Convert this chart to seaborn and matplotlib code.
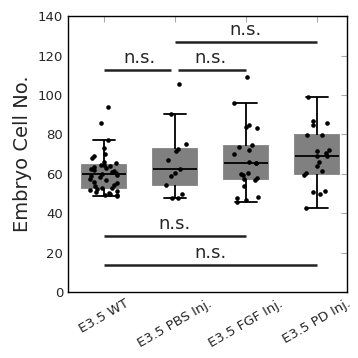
import numpy as np
import pandas as pd
import seaborn as sns
import matplotlib.pyplot as plt

# cell counts per embryo
groups = ['E3.5 WT', 'E3.5 PBS Inj.', 'E3.5 FGF Inj.', 'E3.5 PD Inj.']
wt = [48.9, 49.2, 49.5, 50.0, 50.5, 51.0, 51.5, 52.0, 52.3, 52.6,
      53.0, 54.0, 54.5, 55.5, 56.0, 57.0, 57.5, 58.5, 59.0, 59.5,
      59.9, 60.5, 61.0, 61.5, 62.0, 62.5, 63.0, 63.5, 64.0, 64.3,
      64.5, 65.3, 66.0, 68.2, 69.0, 69.9, 72.9, 77.1, 85.6, 93.7]
pbs = [47.5, 47.9, 49.7, 54.3, 58.9, 60.5, 62.7, 67.0, 71.5, 72.5, 75.0, 90.6, 105.5]
fgf = [45.8, 46.5, 47.5, 48.5, 53.6, 57.0, 57.5, 57.7, 59.4, 60.0, 60.5, 65.3,
       65.5, 65.8, 69.9, 72.0, 73.5, 74.7, 83.5, 83.9, 84.7, 95.7, 108.9]
pd_inj = [42.8, 49.7, 50.6, 51.2, 59.4, 60.2, 61.4, 63.9, 66.0, 68.8,
          69.2, 70.7, 71.8, 71.9, 79.5, 79.8, 84.7, 85.9, 86.9, 98.8]

# significance brackets: (from group, to group, height, shrink at start, shrink at end)
comparisons = [(0, 1, 112.6, 0.0, 0.05),
               (1, 2, 112.6, 0.04, 0.0),
               (1, 3, 127.0, 0.0, 0.0),
               (0, 2, 28.4, 0.0, 0.0),
               (0, 3, 14.0, 0.0, 0.0)]

df = pd.DataFrame({
    'group': np.repeat(groups, [len(wt), len(pbs), len(fgf), len(pd_inj)]),
    'cells': wt + pbs + fgf + pd_inj,
})

sns.set_style('white')
plt.rcParams['font.family'] = ['DejaVu Sans']

fig = plt.figure(figsize=(3.58, 3.58), dpi=100)
ax = fig.add_axes([0.19, 0.184, 0.779, 0.771])

sns.boxplot(data=df, x='group', y='cells', order=groups, ax=ax,
            color='#808080', saturation=1, width=0.62, showfliers=False,
            linecolor='black', linewidth=1.3,
            boxprops=dict(facecolor='#808080', edgecolor='#808080'),
            whis=1.5)
np.random.seed(4)
sns.stripplot(data=df, x='group', y='cells', order=groups, ax=ax,
              color='black', size=3.3, jitter=0.2)

for a, b, h, s0, s1 in comparisons:
    ax.plot([a + s0, b - s1], [h, h], color='#222222', lw=1.8, solid_capstyle='butt')
    ax.text((a + b) / 2, h + 1.5, 'n.s.', ha='center', va='bottom', fontsize=13)

ax.set_ylim(0, 140)
ax.set_yticks(range(0, 141, 20))
ax.set_xlim(-0.5, 3.42)
ax.set_xlabel('')
ax.set_ylabel('Embryo Cell No.', fontsize=14)
ax.tick_params(axis='both', direction='in', length=4, color='#aaaaaa',
               top=True, right=True, labelsize=9.5)
plt.setp(ax.get_xticklabels(), rotation=30, ha='center')
for sp in ax.spines.values():
    sp.set_color('black')
    sp.set_linewidth(1.0)

fig.savefig('out.png', dpi=100)
